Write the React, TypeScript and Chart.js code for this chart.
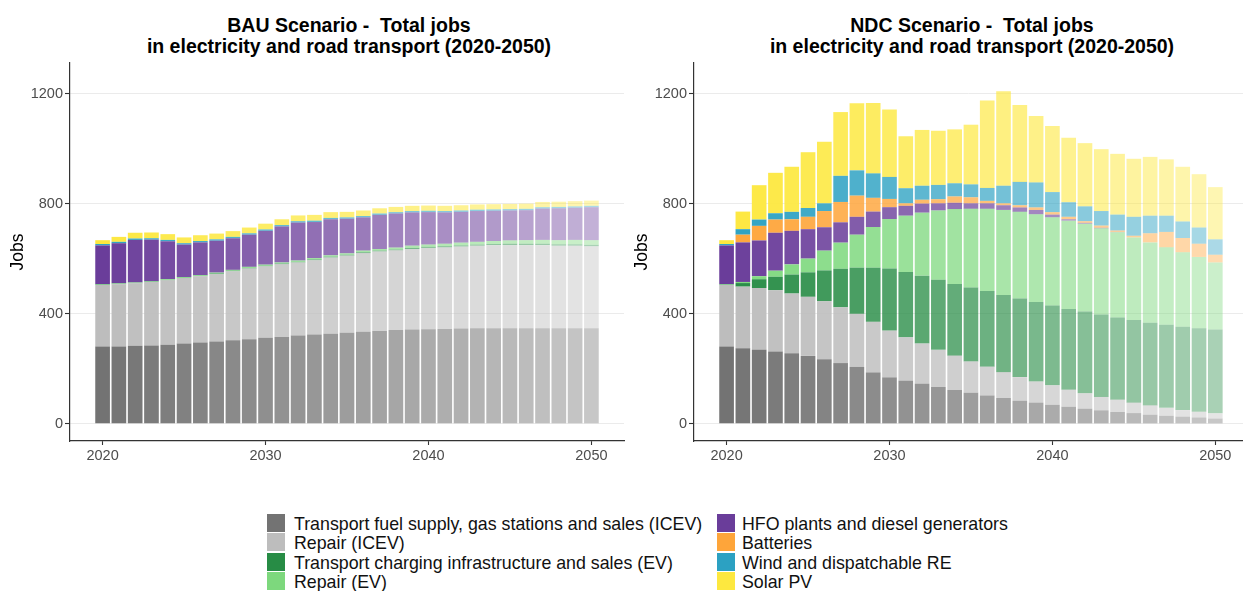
import React, { useEffect, useRef } from "react";
import { Chart, registerables } from "chart.js";

Chart.register(...registerables);

const FONT = "'Liberation Sans', Arial, Helvetica, sans-serif";

// Years on the x axis
const YEARS = [
  2020, 2021, 2022, 2023, 2024, 2025, 2026, 2027, 2028, 2029, 2030,
  2031, 2032, 2033, 2034, 2035, 2036, 2037, 2038, 2039, 2040,
  2041, 2042, 2043, 2044, 2045, 2046, 2047, 2048, 2049, 2050,
];
const X_TICKS = [2020, 2030, 2040, 2050];
const Y_TICKS = [0, 400, 800, 1200];

// Series names and fill colours (bottom of the stack first)
const SERIES_NAMES = [
  "Transport fuel supply, gas stations and sales (ICEV)",
  "Repair (ICEV)",
  "Transport charging infrastructure and sales (EV)",
  "Repair (EV)",
  "HFO plants and diesel generators",
  "Batteries",
  "Wind and dispatchable RE",
  "Solar PV",
];
const SERIES_COLORS = [
  "#737373",
  "#bdbdbd",
  "#278c45",
  "#7dd87d",
  "#6a3d9a",
  "#fea53a",
  "#2ca1c2",
  "#fde83f",
];

// BAU scenario jobs
const bauFuel = [281, 281, 284, 285, 288, 292, 296, 299, 304, 308, 313, 316, 321, 325, 328, 331, 335, 338, 341, 343, 344, 345, 347, 348, 348, 348, 348, 348, 348, 348, 348];
const bauRepairIcev = [224, 227, 227, 231, 234, 238, 241, 246, 251, 257, 260, 265, 266, 270, 277, 281, 286, 289, 290, 293, 296, 297, 298, 300, 302, 302, 302, 302, 300, 300, 298];
const bauCharging = [1, 1, 1, 1, 1, 1, 1, 2, 2, 2, 2, 2, 2, 3, 3, 3, 3, 3, 3, 4, 4, 4, 4, 4, 4, 5, 5, 5, 5, 5, 5];
const bauRepairEv = [2, 2, 2, 2, 3, 3, 3, 3, 3, 4, 4, 4, 5, 5, 5, 5, 6, 6, 7, 8, 8, 9, 10, 10, 11, 12, 13, 14, 15, 16, 17];
const bauHfo = [141, 146, 155, 151, 138, 118, 119, 116, 115, 117, 123, 131, 138, 131, 131, 126, 121, 124, 124, 121, 118, 114, 112, 112, 110, 109, 109, 114, 116, 117, 120];
const bauBatteries = [0, 0, 0, 0, 0, 0, 0, 0, 0, 0, 0, 0, 0, 0, 0, 0, 0, 0, 0, 0, 0, 0, 0, 0, 0, 0, 0, 0, 0, 0, 0];
const bauWind = [5, 5, 5, 5, 5, 5, 5, 5, 5, 5, 5, 5, 5, 5, 5, 5, 5, 5, 5, 5, 5, 5, 5, 5, 5, 5, 5, 5, 5, 5, 5];
const bauSolar = [14, 18, 21, 21, 21, 21, 21, 21, 21, 21, 21, 21, 21, 21, 21, 20, 20, 19, 19, 19, 19, 19, 19, 19, 19, 19, 19, 19, 19, 19, 19];

// NDC scenario jobs
const ndcFuel = [281, 275, 269, 263, 257, 247, 235, 221, 207, 187, 169, 157, 146, 134, 123, 113, 103, 94, 84, 77, 69, 62, 55, 49, 43, 39, 33, 29, 26, 23, 19];
const ndcRepairIcev = [224, 224, 225, 223, 217, 215, 211, 203, 193, 184, 170, 158, 146, 135, 125, 114, 105, 94, 86, 77, 71, 62, 56, 49, 45, 38, 34, 29, 24, 21, 19];
const ndcCharging = [1, 13, 32, 49, 69, 89, 112, 140, 168, 197, 226, 237, 247, 255, 261, 269, 275, 281, 286, 289, 290, 294, 298, 300, 299, 301, 301, 302, 303, 304, 305];
const ndcRepairEv = [2, 4, 11, 22, 37, 50, 72, 95, 120, 148, 180, 205, 229, 252, 272, 286, 299, 309, 315, 319, 321, 321, 319, 313, 310, 300, 292, 282, 271, 259, 244];
const ndcHfo = [141, 144, 130, 138, 122, 107, 85, 74, 65, 56, 43, 36, 33, 26, 23, 20, 20, 17, 16, 16, 10, 5, 3, 2, 1, 0, 0, 0, 0, 0, 0];
const ndcBatteries = [0, 28, 53, 48, 42, 45, 59, 74, 77, 50, 30, 9, 14, 15, 23, 22, 9, 7, 8, 9, 9, 9, 6, 8, 5, 6, 33, 56, 52, 48, 28];
const ndcWind = [5, 20, 23, 23, 27, 32, 28, 95, 92, 89, 80, 55, 51, 52, 48, 47, 47, 64, 85, 91, 73, 53, 54, 53, 58, 69, 64, 59, 60, 59, 56];
const ndcSolar = [14, 64, 125, 147, 164, 203, 224, 232, 244, 256, 245, 189, 203, 197, 196, 217, 318, 344, 280, 242, 240, 235, 230, 225, 221, 211, 214, 205, 199, 194, 190];

const BAU_SERIES = [bauFuel, bauRepairIcev, bauCharging, bauRepairEv, bauHfo, bauBatteries, bauWind, bauSolar];
const NDC_SERIES = [ndcFuel, ndcRepairIcev, ndcCharging, ndcRepairEv, ndcHfo, ndcBatteries, ndcWind, ndcSolar];

function rgba(hex: string, a: number): string {
  const n = parseInt(hex.slice(1), 16);
  return `rgba(${(n >> 16) & 255}, ${(n >> 8) & 255}, ${n & 255}, ${a})`;
}

// Later years are drawn progressively more transparent
const fade = (index: number) => 1 - 0.02 * index;

function buildConfig(series: number[][], xMax: number, rightPad: number): any {
  return {
    type: "bar",
    data: {
      datasets: SERIES_NAMES.map((name, k) => ({
        label: name,
        data: YEARS.map((year, i) => ({ x: year, y: series[k][i] })),
        backgroundColor: (ctx: any) => rgba(SERIES_COLORS[k], fade(ctx.dataIndex)),
        borderWidth: 0,
        categoryPercentage: 1,
        barPercentage: 0.9,
      })),
    },
    options: {
      animation: false,
      responsive: false,
      maintainAspectRatio: false,
      events: [],
      layout: { padding: { top: 63, left: 0, right: rightPad, bottom: 0 } },
      plugins: {
        legend: { display: false },
        tooltip: { enabled: false },
        title: { display: false },
      },
      scales: {
        x: {
          type: "linear",
          min: 2018,
          max: xMax,
          stacked: true,
          offset: false,
          grid: {
            display: true,
            drawOnChartArea: false,
            drawTicks: true,
            tickLength: 4,
            tickColor: "#333333",
            tickWidth: 1.1,
            offset: false,
          },
          border: { display: true, color: "#333333", width: 1.2 },
          ticks: {
            font: { size: 14.5, family: FONT },
            color: "#4d4d4d",
            padding: 2,
            maxRotation: 0,
            autoSkip: false,
            callback: (v: any) => String(v),
          },
          afterBuildTicks: (s: any) => {
            s.ticks = X_TICKS.map((v) => ({ value: v }));
          },
          afterFit: (s: any) => {
            s.height = 34;
          },
        },
        y: {
          type: "linear",
          min: -62.5,
          max: 1312.5,
          stacked: true,
          grid: {
            color: "#ebebeb",
            lineWidth: 1,
            drawTicks: true,
            tickLength: 5,
            tickColor: "#333333",
            tickWidth: 1.1,
          },
          border: { display: true, color: "#333333", width: 1.2 },
          ticks: {
            font: { size: 14.5, family: FONT },
            color: "#4d4d4d",
            padding: 2,
            callback: (v: any) => String(v),
          },
          title: {
            display: true,
            text: "Jobs",
            color: "#000000",
            font: { size: 17.5, family: FONT },
            padding: { top: 8, bottom: 0 },
          },
          afterBuildTicks: (s: any) => {
            s.ticks = Y_TICKS.map((v) => ({ value: v }));
          },
          afterFit: (s: any) => {
            s.width = 70;
          },
        },
      },
    },
  };
}

function StackedPanel(props: {
  series: number[][];
  left: number;
  width: number;
  xMax: number;
  rightPad: number;
}) {
  const ref = useRef<HTMLCanvasElement | null>(null);
  useEffect(() => {
    if (!ref.current) return;
    const chart = new Chart(ref.current, buildConfig(props.series, props.xMax, props.rightPad));
    return () => chart.destroy();
  }, []);
  return (
    <canvas
      ref={ref}
      width={props.width}
      height={475}
      style={{ position: "absolute", left: props.left, top: 0, width: props.width, height: 475 }}
    />
  );
}

const titleStyle = (center: number): React.CSSProperties => ({
  position: "absolute",
  left: center - 300,
  width: 600,
  top: 15,
  textAlign: "center",
  fontFamily: FONT,
  fontWeight: "bold",
  fontSize: 19.5,
  lineHeight: "21px",
  color: "#000",
  whiteSpace: "nowrap",
});

function LegendItem(props: { index: number; left: number; textLeft: number; row: number }) {
  const top = 514 + props.row * 19.3;
  return (
    <>
      <div
        style={{
          position: "absolute",
          left: props.left,
          top,
          width: 18,
          height: 18,
          background: SERIES_COLORS[props.index],
        }}
      />
      <div
        style={{
          position: "absolute",
          left: props.textLeft,
          top: top + 1,
          fontFamily: FONT,
          fontSize: 17.8,
          lineHeight: "19.3px",
          color: "#111",
          whiteSpace: "nowrap",
        }}
      >
        {SERIES_NAMES[props.index]}
      </div>
    </>
  );
}

export default function App() {
  return (
    <div
      style={{
        position: "fixed",
        left: 0,
        top: 0,
        width: 1243,
        height: 591,
        overflow: "hidden",
        background: "#ffffff",
      }}
    >
      <div style={titleStyle(349)}>
        BAU Scenario -&nbsp; Total jobs
        <br />
        in electricity and road transport (2020-2050)
      </div>
      <div style={titleStyle(972)}>
        NDC Scenario -&nbsp; Total jobs
        <br />
        in electricity and road transport (2020-2050)
      </div>
      <StackedPanel series={BAU_SERIES} left={0} width={640} xMax={2052} rightPad={16} />
      <StackedPanel series={NDC_SERIES} left={624} width={619} xMax={2051.7} rightPad={0} />
      {[0, 1, 2, 3].map((r) => (
        <LegendItem key={"l" + r} index={r} left={267} textLeft={294} row={r} />
      ))}
      {[4, 5, 6, 7].map((r) => (
        <LegendItem key={"r" + r} index={r} left={717} textLeft={742} row={r - 4} />
      ))}
    </div>
  );
}
